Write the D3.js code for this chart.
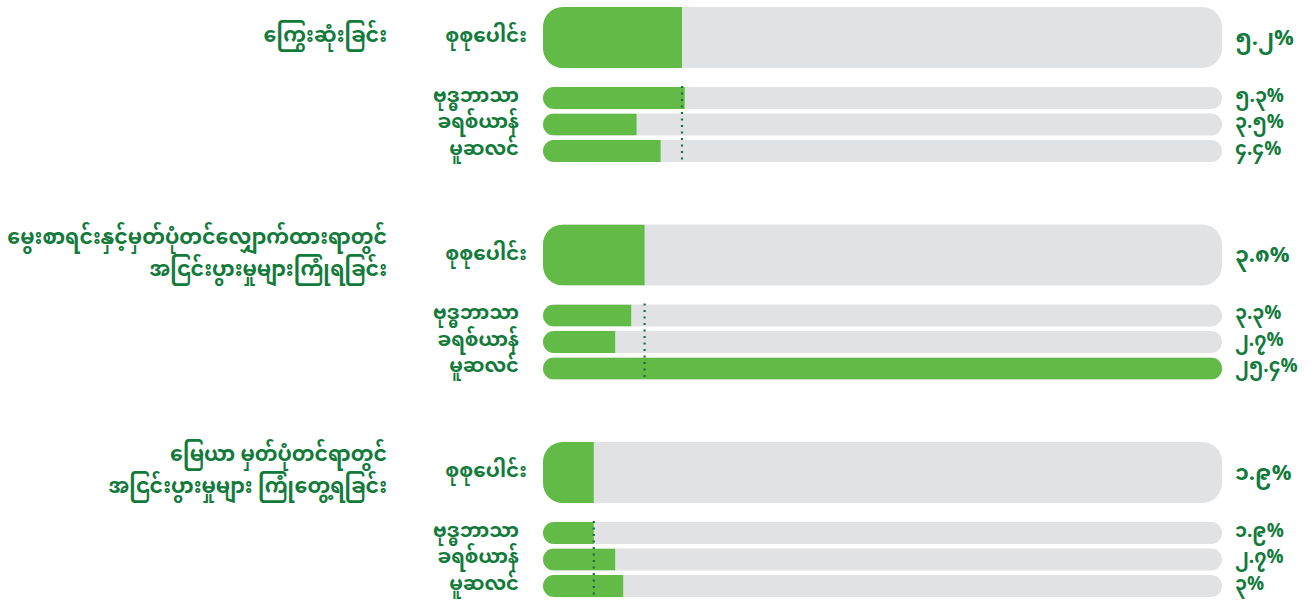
<!DOCTYPE html>
<html><head><meta charset="utf-8">
<script src="https://cdn.jsdelivr.net/npm/d3@7/dist/d3.min.js"></script>
<style>
body{margin:0;background:#fff;}
svg{display:block;}
text{font-family:"Noto Sans Myanmar","Padauk","Myanmar Text","Noto Sans",sans-serif;font-weight:bold;fill:#127a3a;}
</style></head><body>
<svg id="chart" width="1311" height="600"></svg>
<script>
const categories = [
  ["ကြွေးဆုံးခြင်း"],
  ["မွေးစာရင်းနှင့်မှတ်ပုံတင်လျှောက်ထားရာတွင်", "အငြင်းပွားမှုများကြုံရခြင်း"],
  ["မြေယာ မှတ်ပုံတင်ရာတွင်", "အငြင်းပွားမှုများ ကြုံတွေ့ရခြင်း"]
];
const totalLabel = "စုစုပေါင်း";
const groups = ["ဗုဒ္ဓဘာသာ", "ခရစ်ယာန်", "မူဆလင်"];
const totals = [5.2, 3.8, 1.9];
const totalText = ["၅.၂%", "၃.၈%", "၁.၉%"];
const subValues = [
  [5.3, 3.5, 4.4],
  [3.3, 2.7, 25.4],
  [1.9, 2.7, 3]
];
const subText = [
  ["၅.၃%", "၃.၅%", "၄.၄%"],
  ["၃.၃%", "၂.၇%", "၂၅.၄%"],
  ["၁.၉%", "၂.၇%", "၃%"]
];

const GREEN = "#62bb46", GRAY = "#e1e2e4";
const svg = d3.select("#chart");
const maxV = d3.max(subValues.flat().concat(totals));
const x = d3.scaleLinear().domain([0, maxV]).range([543, 1222]);
const gy = d3.scaleLinear().domain([0, 1]).range([7, 224.5]);
const BIG_H = 61, SUB_H = 22;
const subY = d3.scaleLinear().domain([0, 1]).range([80, 106.5]);
const defs = svg.append("defs");

function bar(g, id, y, h, r, v) {
  const w = x(maxV) - x(0);
  defs.append("clipPath").attr("id", id).append("rect")
    .attr("x", x(0)).attr("y", y).attr("width", w).attr("height", h).attr("rx", r).attr("ry", r);
  g.append("rect").attr("x", x(0)).attr("y", y).attr("width", w).attr("height", h)
    .attr("rx", r).attr("ry", r).attr("fill", GRAY);
  g.append("rect").attr("clip-path", `url(#${id})`).attr("x", x(0)).attr("y", y)
    .attr("width", x(v) - x(0)).attr("height", h).attr("fill", GREEN);
}

categories.forEach((cat, i) => {
  const top = gy(i);
  const g = svg.append("g");
  const cy = top + BIG_H / 2;
  const lh = 32;
  cat.forEach((line, k) => {
    g.append("text").attr("x", 387).attr("y", cy + (k - (cat.length - 1) / 2) * lh)
      .attr("text-anchor", "end").attr("dominant-baseline", "central")
      .attr("font-size", 20.5).text(line);
  });
  bar(g, "big" + i, top, BIG_H, 20, totals[i]);
  g.append("text").attr("x", 527).attr("y", cy).attr("text-anchor", "end")
    .attr("dominant-baseline", "central").attr("font-size", 20).text(totalLabel);
  g.append("text").attr("x", 1235).attr("y", cy + 2).attr("dominant-baseline", "central")
    .attr("font-size", 22).text(totalText[i]);
  groups.forEach((name, j) => {
    const y = top + subY(j);
    bar(g, `sub${i}_${j}`, y, SUB_H, SUB_H / 2, subValues[i][j]);
    g.append("text").attr("x", 519).attr("y", y + SUB_H / 2 - 1).attr("text-anchor", "end")
      .attr("dominant-baseline", "central").attr("font-size", 19.5).text(name);
    g.append("text").attr("x", 1235).attr("y", y + SUB_H / 2 - 1).attr("dominant-baseline", "central")
      .attr("font-size", 19).text(subText[i][j]);
  });
  g.append("line").attr("x1", x(totals[i])).attr("x2", x(totals[i]))
    .attr("y1", top + subY(0) - 1).attr("y2", top + subY(2) + SUB_H + 1)
    .attr("stroke", "#1b6e45").attr("stroke-width", 2.2).attr("stroke-dasharray", "2,4.5");
});
</script></body></html>
